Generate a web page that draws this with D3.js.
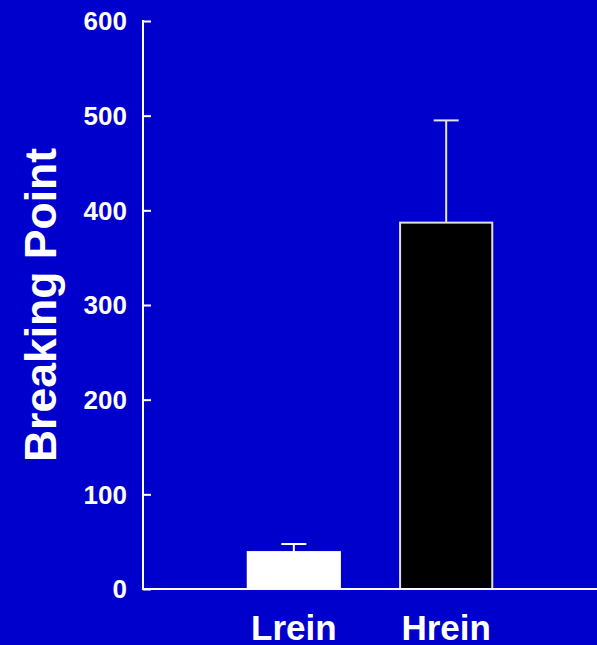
<!DOCTYPE html>
<html lang="en">
<head>
  <meta charset="UTF-8">
  <title>Breaking Point</title>
  <style>
    body { margin: 0; background: #0000cc; }
    text { font-family: "Liberation Sans", Arial, sans-serif; font-weight: bold; fill: #fff; }
  </style>
</head>
<body>
  <svg id="svg" width="597" height="645"></svg>

  <script src="https://d3js.org/d3.v7.min.js"></script>
  <script>
    const groups = ['Lrein', 'Hrein']
    const means = [39, 387]
    const errors = [8.5, 108]
    const fills = ['#ffffff', '#000000']
    const yTicks = [0, 100, 200, 300, 400, 500, 600]

    const svg = d3.select('#svg')
    svg.append('rect').attr('width', 597).attr('height', 645).attr('fill', '#0000cc')

    const xScale = d3.scaleBand()
      .domain(groups)
      .range([143, 597])
      .paddingInner(0.395)
      .paddingOuter(0.6875)

    const yScale = d3.scaleLinear()
      .domain([0, 600])
      .range([589, 21])

    // y axis, ticks pointing inward
    const yAxis = svg.append('g')
      .attr('transform', 'translate(143,0)')
      .call(d3.axisRight(yScale).tickValues(yTicks).tickSize(8).tickFormat(''))
    yAxis.select('.domain').remove()
    yAxis.selectAll('line').attr('stroke', '#fff').attr('stroke-width', 2)
    svg.append('line')
      .attr('x1', 143).attr('x2', 143)
      .attr('y1', yScale(600) - 1).attr('y2', yScale(0))
      .attr('stroke', '#fff').attr('stroke-width', 2)

    svg.selectAll('.ylab')
      .data(yTicks)
      .enter()
      .append('text')
      .attr('class', 'ylab')
      .attr('x', 127)
      .attr('y', d => yScale(d))
      .attr('dy', '0.36em')
      .attr('text-anchor', 'end')
      .style('font-size', '26px')
      .text(d => d)

    // error bars
    groups.forEach((g, i) => {
      const cx = xScale(g) + xScale.bandwidth() / 2
      const top = yScale(means[i] + errors[i])
      svg.append('line')
        .attr('x1', cx).attr('x2', cx)
        .attr('y1', yScale(means[i])).attr('y2', top)
        .attr('stroke', i === 0 ? '#fff' : '#e6e6e6').attr('stroke-width', 2)
      svg.append('line')
        .attr('x1', cx - 12.5).attr('x2', cx + 12.5)
        .attr('y1', top).attr('y2', top)
        .attr('stroke', i === 0 ? '#fff' : '#e6e6e6').attr('stroke-width', 2)
    })

    // bars
    svg.selectAll('.bar')
      .data(groups)
      .enter()
      .append('rect')
      .attr('class', 'bar')
      .attr('x', d => xScale(d))
      .attr('y', (d, i) => yScale(means[i]))
      .attr('width', xScale.bandwidth())
      .attr('height', (d, i) => yScale(0) - yScale(means[i]))
      .attr('fill', (d, i) => fills[i])
      .attr('stroke', (d, i) => i === 0 ? '#fff' : '#e0e0e0')
      .attr('stroke-width', 2)

    // x axis
    svg.append('line')
      .attr('x1', 142).attr('x2', 597)
      .attr('y1', yScale(0)).attr('y2', yScale(0))
      .attr('stroke', '#fff').attr('stroke-width', 2)

    svg.selectAll('.xlab')
      .data(groups)
      .enter()
      .append('text')
      .attr('class', 'xlab')
      .attr('x', d => xScale(d) + xScale.bandwidth() / 2)
      .attr('y', 640)
      .attr('text-anchor', 'middle')
      .style('font-size', '35px')
      .text(d => d)

    svg.append('text')
      .attr('transform', 'translate(56,305) rotate(-90)')
      .attr('text-anchor', 'middle')
      .style('font-size', '44.5px')
      .text('Breaking Point')
  </script>
</body>
</html>
